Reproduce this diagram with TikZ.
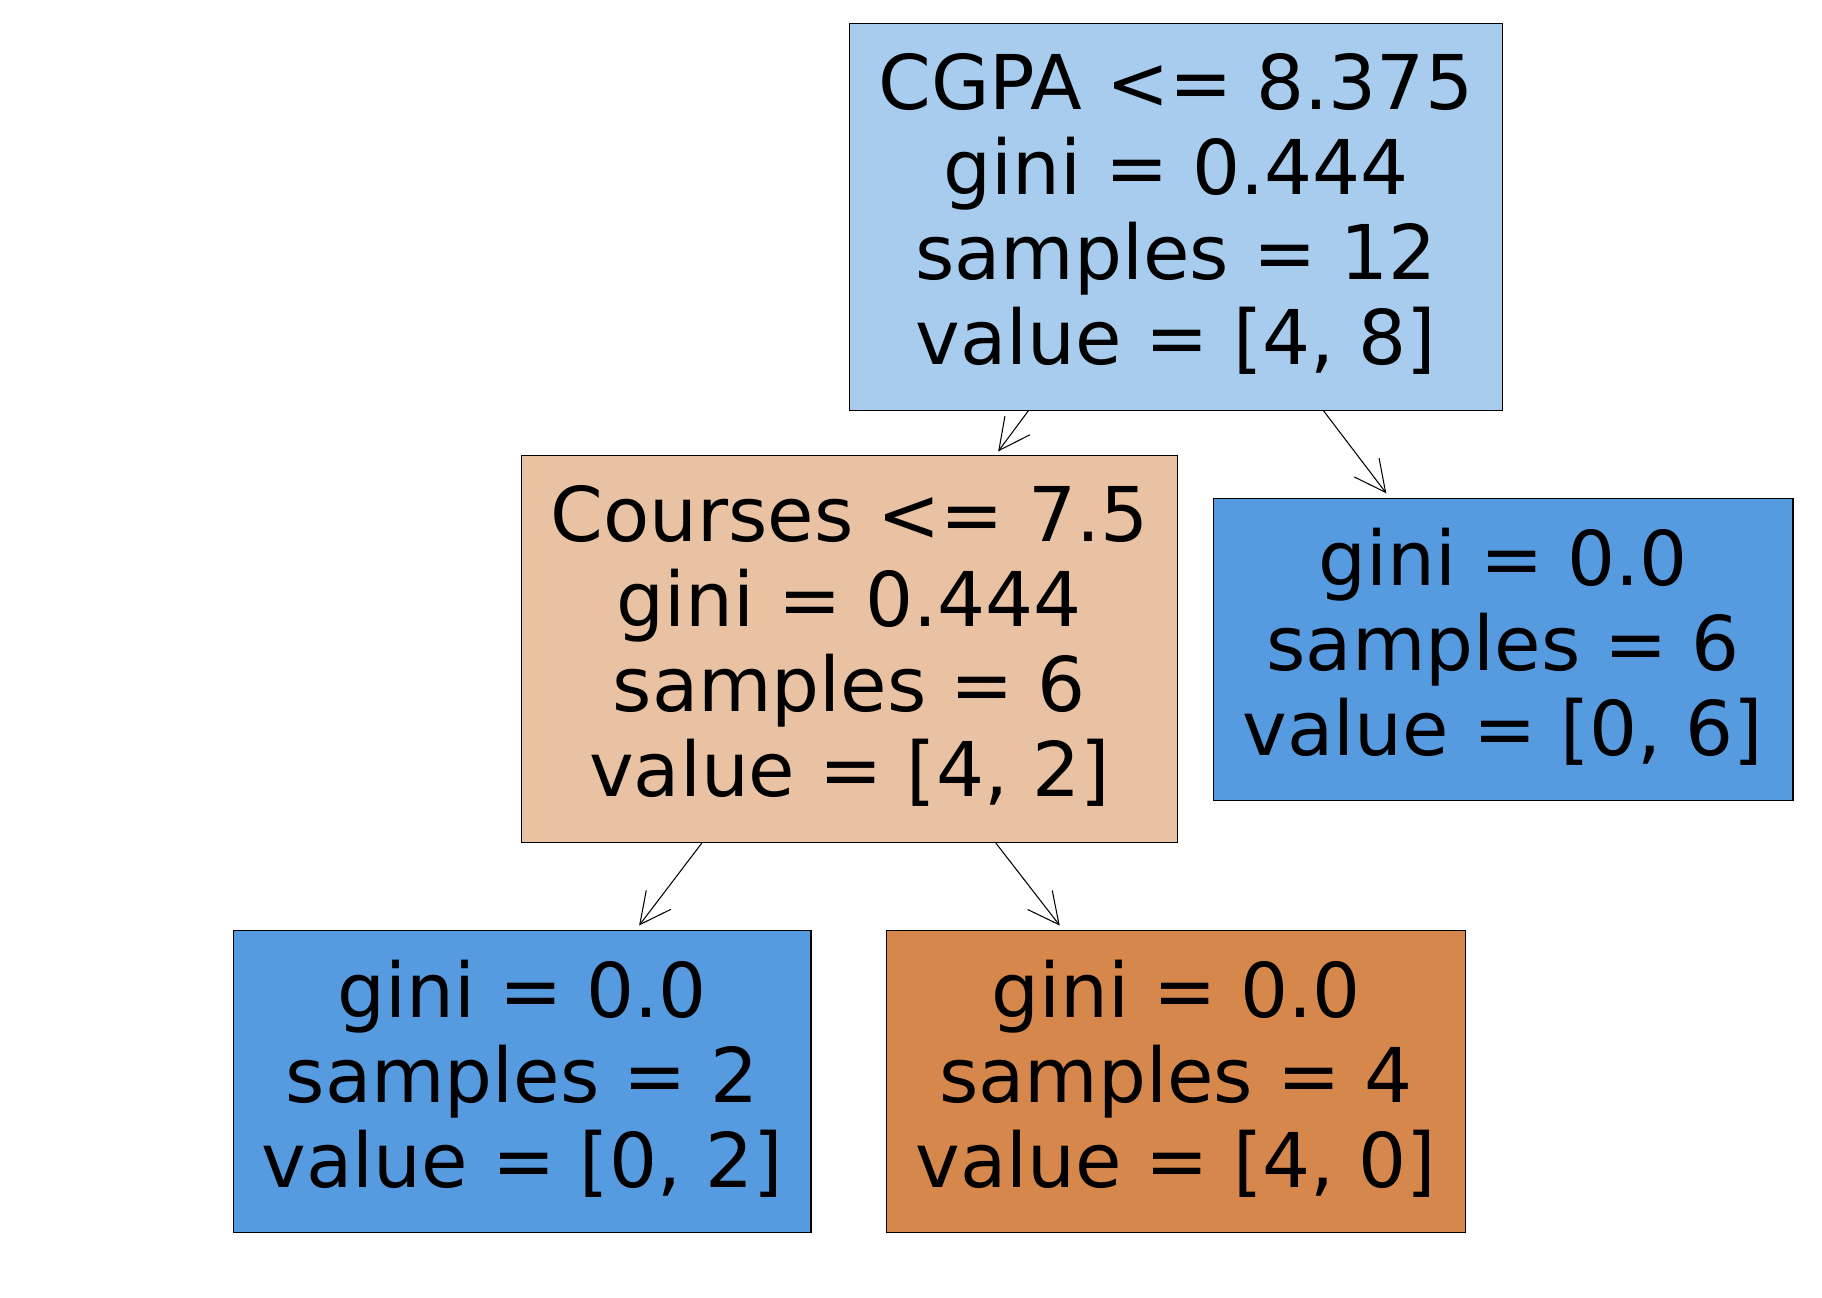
\documentclass[tikz,border=0pt]{standalone}
\usepackage{fontspec}
\setmainfont{DejaVu Sans}
\usetikzlibrary{arrows.meta}
\definecolor{rootblue}{RGB}{167,204,237}
\definecolor{leafblue}{RGB}{86,154,224}
\definecolor{peach}{RGB}{233,194,163}
\definecolor{leaforange}{RGB}{214,135,75}
\tikzset{
  treebox/.style={draw=black, line width=0.5pt, rectangle, align=center, inner sep=0pt,
    font=\fontsize{32.5pt}{36.5pt}\selectfont},
  splitbox/.style={treebox, minimum height=166.5pt},
  leafbox/.style={treebox, minimum height=130pt},
  arr/.style={draw=black, line width=0.45pt, -{Straight Barb[length=13.4pt, width=13.4pt]}}
}
\begin{document}
\begin{tikzpicture}[x=0.5pt, y=-0.5pt]
\useasboundingbox (0,0) rectangle (1568,1117);
\node[splitbox, fill=rootblue, minimum width=281pt] (root) at (1012,186.5)
  {CGPA <= 8.375\\gini = 0.444\\samples = 12\\value = [4, 8]\vphantom{g}};
\node[splitbox, fill=peach, minimum width=282pt] (courses) at (731,558.5)
  {Courses <= 7.5\\gini = 0.444\\samples = 6\\value = [4, 2]\vphantom{g}};
\node[leafbox, fill=leafblue, minimum width=249.5pt] (right) at (1293.5,559)
  {gini = 0.0\\samples = 6\\value = [0, 6]\vphantom{g}};
\node[leafbox, fill=leafblue, minimum width=248.5pt] (leafl) at (449.5,931)
  {gini = 0.0\\samples = 2\\value = [0, 2]\vphantom{g}};
\node[leafbox, fill=leaforange, minimum width=249pt] (leafm) at (1012,931)
  {gini = 0.0\\samples = 4\\value = [4, 0]\vphantom{g}};
\draw[arr] ([xshift=-63.5pt]root.south) -- ([xshift=64pt,yshift=1.5pt]courses.north);
\draw[arr] ([xshift=63.5pt]root.south) -- ([xshift=-50.25pt,yshift=2pt]right.north);
\draw[arr] ([xshift=-63.5pt]courses.south) -- ([xshift=50.25pt,yshift=2pt]leafl.north);
\draw[arr] ([xshift=63pt]courses.south) -- ([xshift=-50pt,yshift=2pt]leafm.north);
\end{tikzpicture}
\end{document}
